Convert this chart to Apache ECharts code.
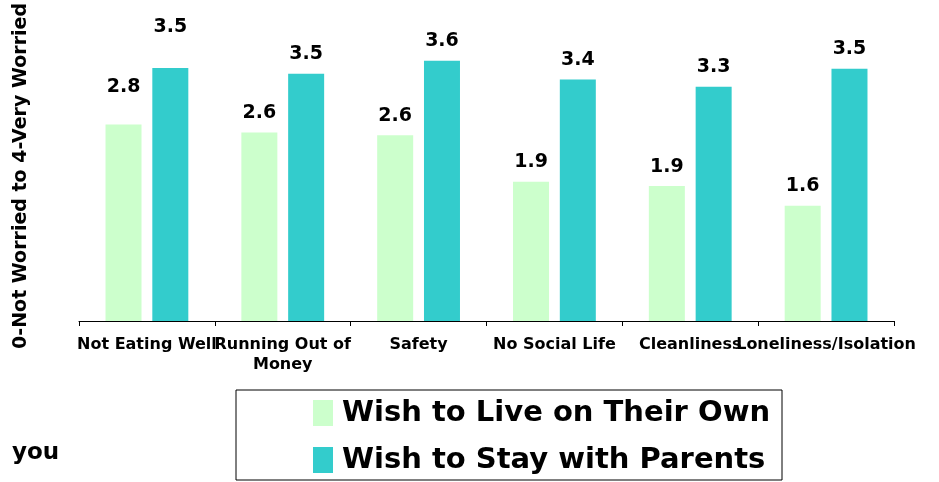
<!DOCTYPE html>
<html>
<head>
<meta charset="utf-8">
<script src="https://cdn.jsdelivr.net/npm/echarts@6/dist/echarts.min.js"></script>
<style>
  html, body { margin: 0; padding: 0; background: #fff; }
  #chart { width: 939px; height: 482px; }
</style>
</head>
<body>
<div id="chart"></div>
<script>
var categories = ['Not Eating Well', 'Running Out of\nMoney', 'Safety', 'No Social Life', 'Cleanliness', 'Loneliness/Isolation'];
// bar heights
var ownValues = [2.71, 2.60, 2.56, 1.92, 1.86, 1.59];
var parentValues = [3.49, 3.41, 3.59, 3.33, 3.23, 3.48];
// printed labels
var ownLabels = ['2.8', '2.6', '2.6', '1.9', '1.9', '1.6'];
var parentLabels = ['3.5', '3.5', '3.6', '3.4', '3.3', '3.5'];

var chart = echarts.init(document.getElementById('chart'));

var lblStyle = {
  show: true,
  position: 'top',
  distance: 10,
  color: '#000',
  fontFamily: 'DejaVu Sans',
  fontWeight: 'bold',
  fontSize: 19
};

// the first group's labels sit higher above the bars in the original
function withLabels(values, labels, firstDist) {
  return values.map(function (v, i) {
    var item = { value: v };
    if (i === 0) item.label = { distance: firstDist };
    return item;
  });
}

chart.setOption({
  animation: false,
  grid: { left: 79, right: 45, top: 29, bottom: 161 },
  title: {
    text: 'you',
    left: 7,
    top: 437,
    textStyle: { fontFamily: 'DejaVu Sans', fontWeight: 'bold', fontSize: 23, color: '#000' }
  },
  graphic: [{
    type: 'rect',
    shape: { x: 236, y: 390, width: 546, height: 90 },
    style: { fill: 'none', stroke: '#000', lineWidth: 1 }
  }],
  legend: {
    orient: 'vertical',
    left: 313,
    top: 398,
    padding: 0,
    itemWidth: 20,
    itemHeight: 26,
    itemGap: 17,
    icon: 'rect',
    textStyle: {
      fontFamily: 'DejaVu Sans', fontWeight: 'bold', fontSize: 29, color: '#000',
      lineHeight: 30, padding: [0, 0, 0, 4]
    },
    data: ['Wish to Live on Their Own', 'Wish to Stay with Parents']
  },
  xAxis: {
    type: 'category',
    data: categories,
    axisLine: { lineStyle: { color: '#000', width: 1 } },
    axisTick: { show: true, length: 5, lineStyle: { color: '#000' } },
    axisLabel: {
      interval: 0,
      color: '#000',
      fontFamily: 'DejaVu Sans',
      fontWeight: 'bold',
      fontSize: 16,
      margin: 14,
      lineHeight: 20
    }
  },
  yAxis: {
    type: 'value',
    min: 0,
    max: 4,
    name: '0-Not Worried to 4-Very Worried',
    nameLocation: 'middle',
    nameGap: 48,
    nameRotate: 90,
    nameTextStyle: { fontFamily: 'DejaVu Sans', fontWeight: 'bold', fontSize: 19, color: '#000' },
    axisLine: { show: false },
    axisTick: { show: false },
    axisLabel: { show: false },
    splitLine: { show: false }
  },
  series: [{
    name: 'Wish to Live on Their Own',
    type: 'bar',
    data: withLabels(ownValues, ownLabels, 28),
    barWidth: 36,
    barGap: '30%',
    itemStyle: { color: '#ccffcc' },
    label: Object.assign({}, lblStyle, { formatter: function (p) { return ownLabels[p.dataIndex]; } })
  }, {
    name: 'Wish to Stay with Parents',
    type: 'bar',
    data: withLabels(parentValues, parentLabels, 31),
    barWidth: 36,
    barGap: '30%',
    itemStyle: { color: '#33cccc' },
    label: Object.assign({}, lblStyle, { formatter: function (p) { return parentLabels[p.dataIndex]; } })
  }]
});
</script>
</body>
</html>
